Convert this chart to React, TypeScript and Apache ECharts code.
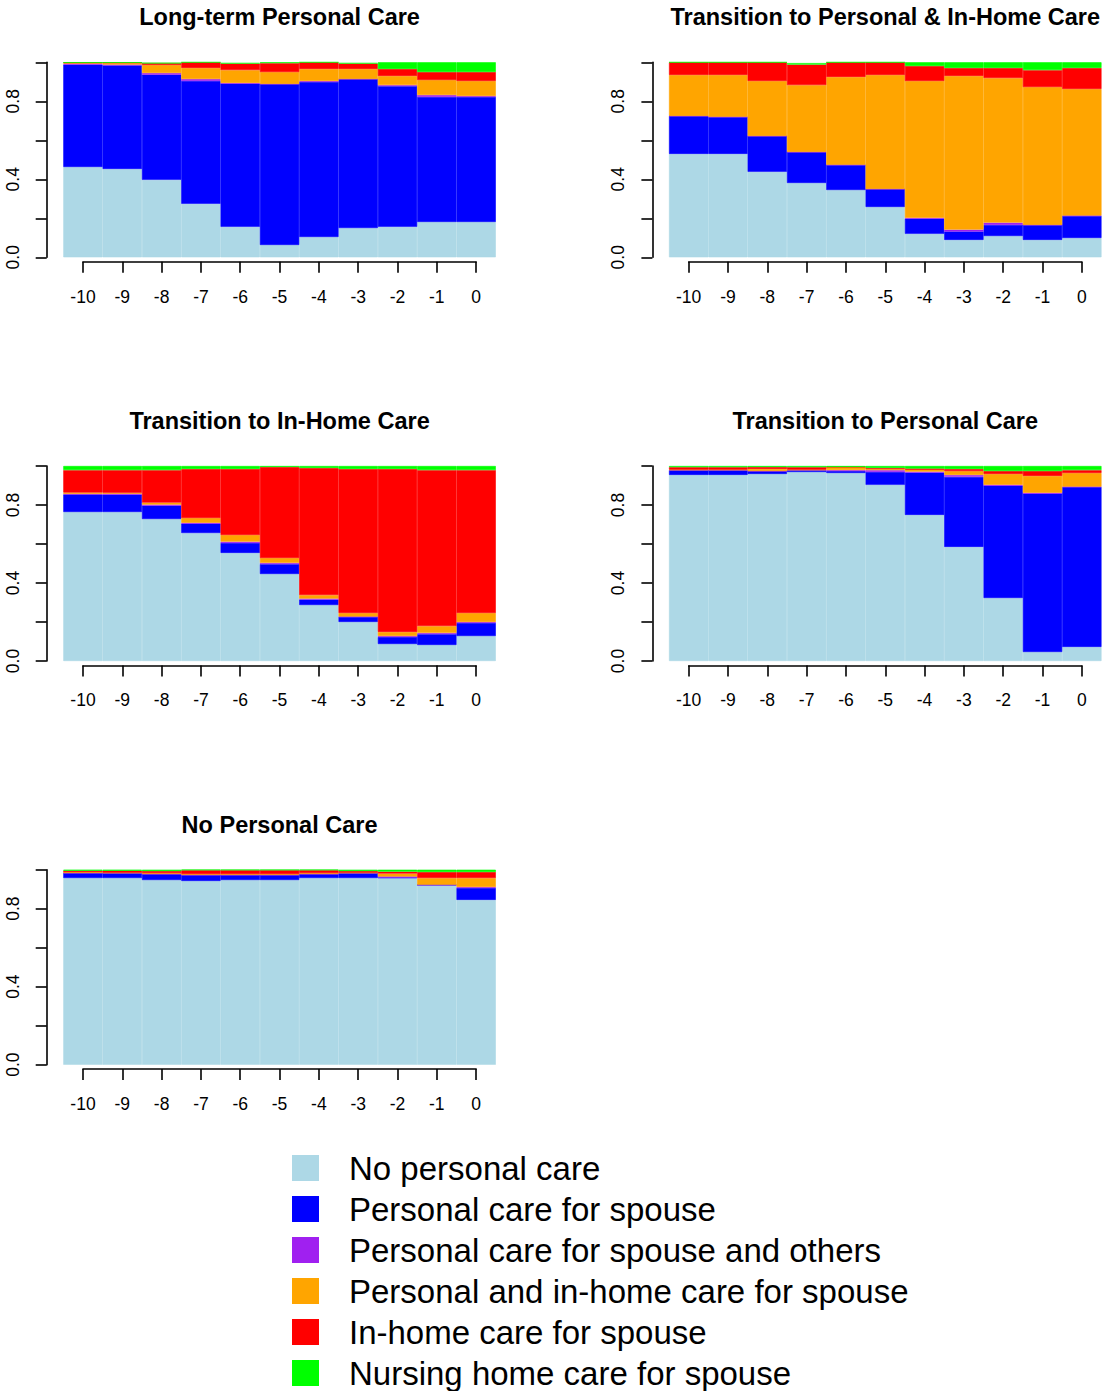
import { useEffect, useRef } from "react";
import * as echarts from "echarts";

// ---------- data ----------
const years = ["-10", "-9", "-8", "-7", "-6", "-5", "-4", "-3", "-2", "-1", "0"];
const yTickLabels = ["0.0", "0.4", "0.8"];

const stateNames = [
  "No personal care",
  "Personal care for spouse",
  "Personal care for spouse and others",
  "Personal and in-home care for spouse",
  "In-home care for spouse",
  "Nursing home care for spouse",
];
const stateColors = ["#ADD8E6", "#0000FF", "#A020F0", "#FFA500", "#FF0000", "#00FF00"];

const panelTitles = [
  "Long-term Personal Care",
  "Transition to Personal & In-Home Care",
  "Transition to In-Home Care",
  "Transition to Personal Care",
  "No Personal Care",
];

// Long-term Personal Care
const ltNone = [0.463, 0.453, 0.397, 0.274, 0.156, 0.063, 0.104, 0.15, 0.156, 0.181, 0.181];
const ltSpouse = [0.525, 0.531, 0.539, 0.63, 0.734, 0.826, 0.795, 0.764, 0.722, 0.641, 0.641];
const ltSpouseOthers = [0.005, 0.004, 0.009, 0.01, 0.004, 0, 0.005, 0, 0.005, 0.01, 0.005];
const ltPersonalInHome = [0.004, 0.009, 0.041, 0.057, 0.066, 0.061, 0.062, 0.052, 0.047, 0.077, 0.077];
const ltInHome = [0.002, 0.002, 0.01, 0.029, 0.033, 0.046, 0.034, 0.027, 0.036, 0.041, 0.046];
const ltNursing = [0, 0, 0, 0, 0.004, 0.004, 0, 0.004, 0.034, 0.05, 0.05];

// Transition to Personal & In-Home Care
const tpiNone = [0.53, 0.53, 0.438, 0.381, 0.345, 0.258, 0.12, 0.089, 0.109, 0.089, 0.099];
const tpiSpouse = [0.195, 0.19, 0.184, 0.159, 0.129, 0.092, 0.078, 0.043, 0.057, 0.077, 0.113];
const tpiSpouseOthers = [0, 0, 0, 0, 0, 0, 0.004, 0.01, 0.012, 0, 0.002];
const tpiPersonalInHome = [0.21, 0.215, 0.282, 0.343, 0.451, 0.585, 0.702, 0.788, 0.741, 0.707, 0.649];
const tpiInHome = [0.065, 0.065, 0.096, 0.105, 0.075, 0.065, 0.077, 0.041, 0.052, 0.087, 0.108];
const tpiNursing = [0, 0, 0, 0.008, 0, 0, 0.019, 0.029, 0.029, 0.04, 0.029];

// Transition to In-Home Care
const tihNone = [0.764, 0.764, 0.728, 0.656, 0.554, 0.446, 0.287, 0.2, 0.087, 0.082, 0.128];
const tihSpouse = [0.09, 0.089, 0.069, 0.048, 0.051, 0.051, 0.028, 0.026, 0.036, 0.056, 0.067];
const tihSpouseOthers = [0.003, 0.005, 0.005, 0.005, 0.007, 0.006, 0.005, 0.002, 0.005, 0.006, 0.005];
const tihPersonalInHome = [0.007, 0.004, 0.01, 0.024, 0.034, 0.025, 0.018, 0.018, 0.021, 0.035, 0.046];
const tihInHome = [0.115, 0.117, 0.167, 0.252, 0.339, 0.467, 0.652, 0.739, 0.836, 0.8, 0.733];
const tihNursing = [0.021, 0.021, 0.021, 0.015, 0.015, 0.005, 0.01, 0.015, 0.015, 0.021, 0.021];

// Transition to Personal Care
const tpNone = [0.954, 0.954, 0.959, 0.969, 0.964, 0.903, 0.749, 0.585, 0.323, 0.046, 0.072];
const tpSpouse = [0.025, 0.025, 0.015, 0.01, 0.01, 0.066, 0.217, 0.359, 0.576, 0.812, 0.82];
const tpSpouseOthers = [0, 0, 0, 0, 0.005, 0.01, 0.005, 0.01, 0.005, 0.005, 0.002];
const tpPersonalInHome = [0.003, 0.003, 0.011, 0.003, 0.016, 0.005, 0.01, 0.02, 0.055, 0.086, 0.07];
const tpInHome = [0.012, 0.012, 0.01, 0.012, 0, 0.006, 0.006, 0.011, 0.015, 0.025, 0.015];
const tpNursing = [0.006, 0.006, 0.005, 0.006, 0.005, 0.01, 0.013, 0.015, 0.026, 0.026, 0.021];

// No Personal Care
const npNone = [0.957, 0.957, 0.947, 0.942, 0.947, 0.947, 0.957, 0.957, 0.957, 0.922, 0.845];
const npSpouse = [0.026, 0.026, 0.031, 0.031, 0.026, 0.026, 0.021, 0.026, 0.003, 0, 0.061];
const npSpouseOthers = [0, 0, 0, 0, 0, 0, 0, 0, 0.005, 0, 0.005];
const npPersonalInHome = [0.005, 0.002, 0.005, 0.005, 0.005, 0.005, 0.005, 0.002, 0.015, 0.035, 0.046];
const npInHome = [0.007, 0.01, 0.01, 0.02, 0.02, 0.02, 0.015, 0.008, 0.01, 0.031, 0.031];
const npNursing = [0.005, 0.005, 0.007, 0.002, 0.002, 0.002, 0.002, 0.007, 0.01, 0.012, 0.012];

const panelData = [
  [ltNone, ltSpouse, ltSpouseOthers, ltPersonalInHome, ltInHome, ltNursing],
  [tpiNone, tpiSpouse, tpiSpouseOthers, tpiPersonalInHome, tpiInHome, tpiNursing],
  [tihNone, tihSpouse, tihSpouseOthers, tihPersonalInHome, tihInHome, tihNursing],
  [tpNone, tpSpouse, tpSpouseOthers, tpPersonalInHome, tpInHome, tpNursing],
  [npNone, npSpouse, npSpouseOthers, npPersonalInHome, npInHome, npNursing],
];

// ---------- layout ----------
const FONT = "'Liberation Sans', Arial, Helvetica, sans-serif";
const colLeft = [63.3, 669];
const plotW = 432.5;
const rowTop = [62.3, 466, 869.7];
const plotH = 195;
const panelPos = [
  [0, 0],
  [1, 0],
  [0, 1],
  [1, 1],
  [0, 2],
];
const half = plotW / 11 / 2;

function buildOption() {
  const grid: any[] = [];
  const xAxis: any[] = [];
  const yAxis: any[] = [];
  const series: any[] = [];
  const title: any[] = [];
  const axisLineStyle = { color: "#000", width: 1.6 };

  panelPos.forEach(([c, r], p) => {
    const left = colLeft[c];
    const top = rowTop[r];
    grid.push({ left, top, width: plotW, height: plotH, containLabel: false });
    grid.push({ left: left + half, top: top + plotH + 3.4, width: plotW - 2 * half, height: 1, containLabel: false });

    xAxis.push({
      type: "category",
      gridIndex: 2 * p,
      data: years,
      boundaryGap: true,
      show: false,
    });
    xAxis.push({
      type: "category",
      gridIndex: 2 * p + 1,
      data: years,
      boundaryGap: false,
      position: "bottom",
      axisLine: { show: true, lineStyle: axisLineStyle },
      axisTick: { show: true, length: 11, interval: 0, lineStyle: axisLineStyle },
      axisLabel: { show: true, interval: 0, margin: 26, fontSize: 17.5, color: "#000", fontFamily: FONT },
      splitLine: { show: false },
    });
    yAxis.push({
      type: "value",
      gridIndex: 2 * p,
      min: 0,
      max: 1,
      interval: 0.2,
      position: "left",
      offset: 16.6,
      axisLine: { show: true, lineStyle: axisLineStyle },
      axisTick: { show: true, length: 11, lineStyle: axisLineStyle },
      axisLabel: {
        show: true,
        rotate: 90,
        margin: 25,
        fontSize: 17.5,
        color: "#000",
        fontFamily: FONT,
        formatter: (v: number) => {
          const lab = yTickLabels.find((t) => Math.abs(parseFloat(t) - v) < 1e-6);
          return lab ?? "";
        },
      },
      splitLine: { show: false },
    });
    yAxis.push({ type: "value", gridIndex: 2 * p + 1, show: false, min: 0, max: 1 });

    title.push({
      text: panelTitles[p],
      left: left + plotW / 2,
      top: top - 57,
      textAlign: "center",
      padding: 0,
      textStyle: { fontSize: 23.5, fontWeight: "bold", fontFamily: FONT, color: "#000" },
    });

    panelData[p].forEach((vals, s) => {
      series.push({
        type: "bar",
        name: stateNames[s],
        stack: "panel" + p,
        xAxisIndex: 2 * p,
        yAxisIndex: 2 * p,
        data: vals,
        barCategoryGap: "0%",
        barGap: "0%",
        silent: true,
        itemStyle: { color: stateColors[s], borderColor: stateColors[s], borderWidth: 0.6 },
        emphasis: { disabled: true },
      });
    });
  });

  return {
    animation: false,
    backgroundColor: "#fff",
    title,
    grid,
    xAxis,
    yAxis,
    series,
    legend: {
      orient: "vertical",
      left: 292,
      top: 1151.5,
      width: 700,
      height: 250,
      padding: 0,
      data: stateNames,
      icon: "rect",
      itemWidth: 25,
      itemHeight: 24,
      itemGap: 8,
      selectedMode: false,
      formatter: (name: string) => "{g| }" + name,
      textStyle: {
        fontSize: 33,
        color: "#000",
        fontFamily: FONT,
        rich: { g: { width: 26, fontSize: 33 } },
      },
    },
  };
}

export default function App() {
  const ref = useRef<HTMLDivElement>(null);
  useEffect(() => {
    const chart = echarts.init(ref.current!, null, { renderer: "svg" });
    chart.setOption(buildOption() as any);
    return () => chart.dispose();
  }, []);
  return (
    <div
      ref={ref}
      style={{ position: "absolute", left: 0, top: 0, width: 1102, height: 1391, background: "#fff" }}
    />
  );
}
